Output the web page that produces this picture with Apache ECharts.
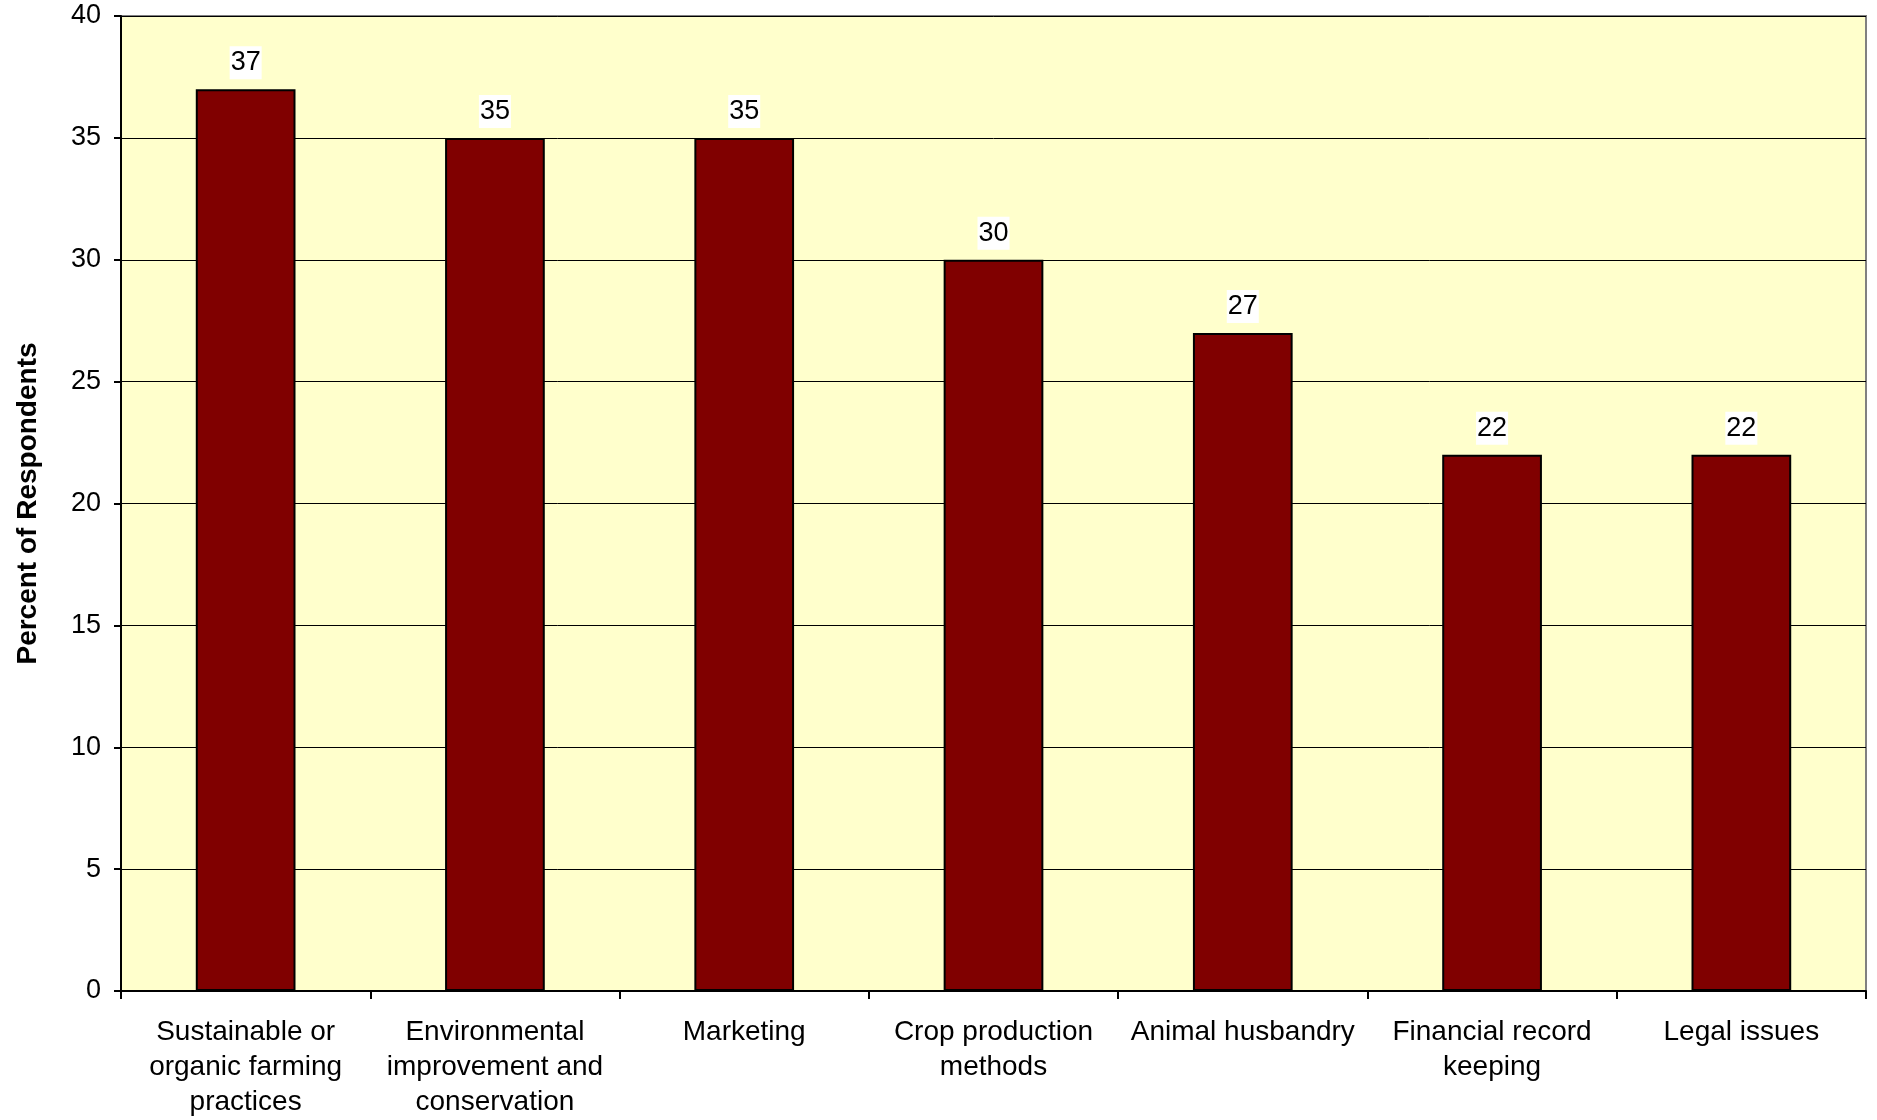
<!DOCTYPE html>
<html>
<head>
<meta charset="utf-8">
<title>Percent of Respondents by Topic</title>
<script src="https://cdn.jsdelivr.net/npm/echarts@6/dist/echarts.min.js"></script>
<style>
  html, body { margin: 0; padding: 0; background: #ffffff; }
  #chart { width: 1877px; height: 1120px; }
</style>
</head>
<body>
<div id="chart"></div>
<script>
// Topics of interest and the share of respondents choosing each
const categories = [
  'Sustainable or\norganic farming\npractices',
  'Environmental\nimprovement and\nconservation',
  'Marketing',
  'Crop production\nmethods',
  'Animal husbandry',
  'Financial record\nkeeping',
  'Legal issues'
];
const percentValues = [37, 35, 35, 30, 27, 22, 22];
const yTicks = { min: 0, max: 40, step: 5 };
const yAxisTitle = 'Percent of Respondents';

const FONT = "'Liberation Sans', Arial, Helvetica, sans-serif";

const chart = echarts.init(document.getElementById('chart'), null, { renderer: 'canvas' });

chart.setOption({
  animation: false,
  backgroundColor: '#ffffff',
  textStyle: { fontFamily: FONT, color: '#000' },
  grid: {
    left: 121,
    right: 11,
    top: 16,
    bottom: 128,
    show: true,
    backgroundColor: '#FFFFCC',
    borderColor: '#808080',
    borderWidth: 2
  },
  xAxis: {
    type: 'category',
    data: categories,
    boundaryGap: true,
    axisLine: { show: true, lineStyle: { color: '#000', width: 2 } },
    axisTick: { show: true, interval: 0, length: 8, lineStyle: { color: '#000', width: 2 } },
    axisLabel: {
      interval: 0,
      margin: 24,
      fontSize: 28,
      lineHeight: 35,
      color: '#000',
      fontFamily: FONT,
      align: 'center'
    },
    splitLine: { show: false }
  },
  yAxis: {
    type: 'value',
    min: yTicks.min,
    max: yTicks.max,
    interval: yTicks.step,
    name: yAxisTitle,
    nameLocation: 'middle',
    nameGap: 79,
    nameRotate: 90,
    nameTextStyle: { fontSize: 28, fontWeight: 'bold', color: '#000', fontFamily: FONT },
    axisLine: { show: true, lineStyle: { color: '#000', width: 2 } },
    axisTick: { show: true, length: 7, lineStyle: { color: '#000', width: 2 } },
    axisLabel: { margin: 20, fontSize: 27, color: '#000', fontFamily: FONT },
    splitLine: { show: true, lineStyle: { color: '#000', width: 1 } }
  },
  series: [{
    type: 'bar',
    data: percentValues,
    barWidth: '40%',
    itemStyle: { color: '#800000', borderColor: '#000', borderWidth: 2 },
    label: {
      show: true,
      position: 'top',
      distance: 10,
      fontSize: 27,
      color: '#000',
      fontFamily: FONT,
      backgroundColor: '#ffffff',
      padding: [3, 1, 3, 1]
    }
  }]
});
</script>
</body>
</html>
